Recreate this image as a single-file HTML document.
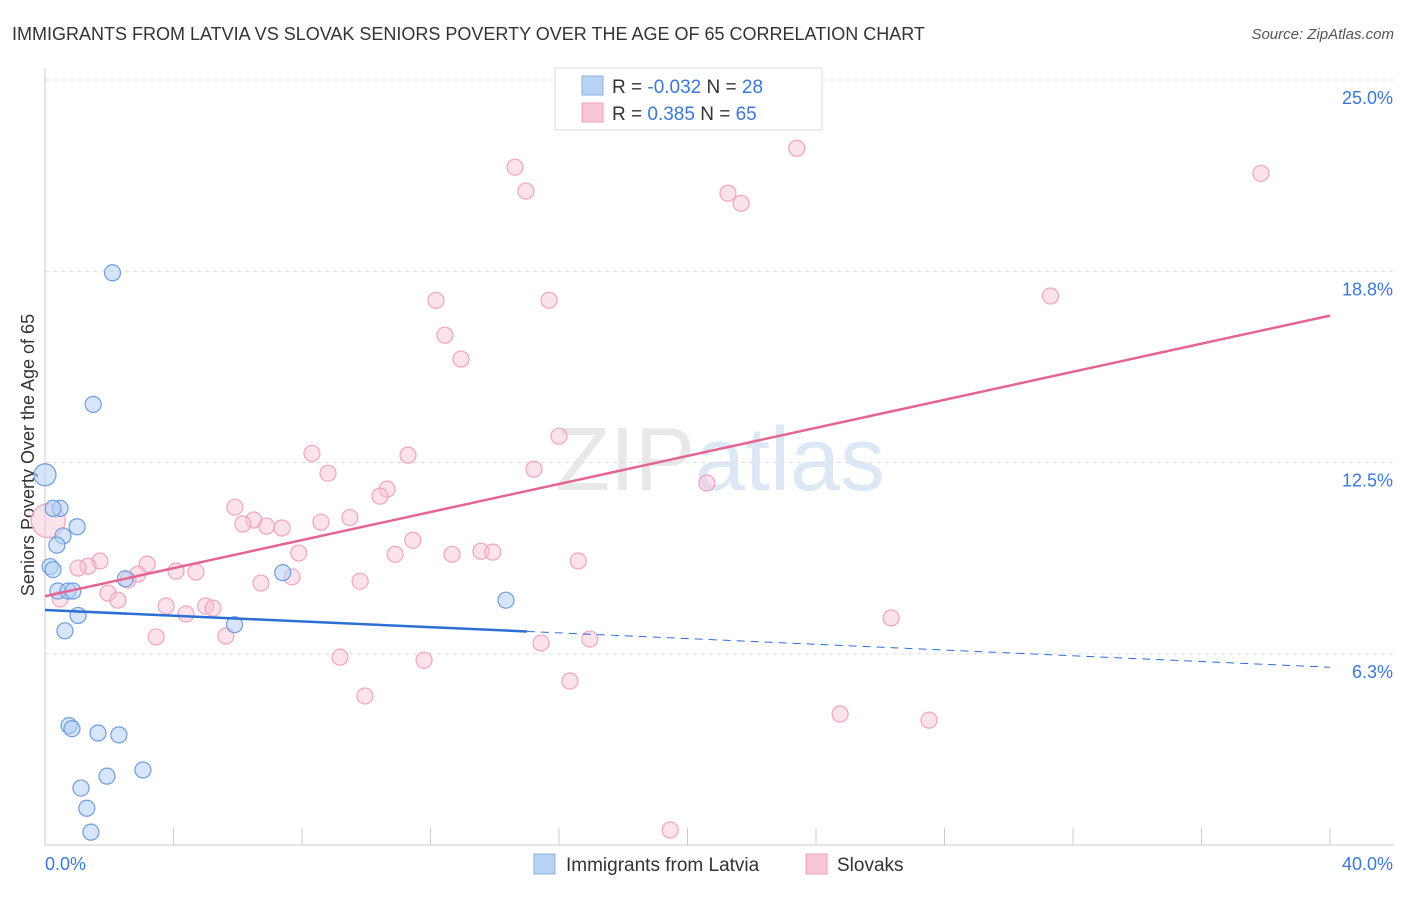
<!DOCTYPE html>
<html><head><meta charset="utf-8"><style>
body{margin:0;background:#fff;font-family:"Liberation Sans",sans-serif;}
svg text{font-family:"Liberation Sans",sans-serif;}
</style></head><body>
<svg width="1406" height="892">
<text x="12" y="40" font-size="18" fill="#333">IMMIGRANTS FROM LATVIA VS SLOVAK SENIORS POVERTY OVER THE AGE OF 65 CORRELATION CHART</text>
<text x="1394" y="39" font-size="15" fill="#555" font-style="italic" text-anchor="end">Source: ZipAtlas.com</text>
<text x="720" y="490" font-size="90" fill="#e8e8e8" text-anchor="middle" font-family="Liberation Serif">ZIP<tspan fill="#dce8f5" font-family="Liberation Sans">atlas</tspan></text>
<g id="grid"></g>
<g id="axes"></g>
<text transform="translate(34,455) rotate(-90)" font-size="18" fill="#333" text-anchor="middle">Seniors Poverty Over the Age of 65</text>
<g id="marks"></g>
<g>
<rect x="555" y="68" width="267" height="62" fill="#fff" stroke="#ddd"/>
<rect x="582" y="76" width="21" height="19" fill="#b9d3f5" stroke="#8ab0e6"/>
<rect x="582" y="103" width="21" height="19" fill="#f9c7d6" stroke="#f0a0ba"/>
<text x="612" y="93" font-size="19" fill="#333">R = <tspan fill="#3b78d8">-0.032</tspan>   N = <tspan fill="#3b78d8">28</tspan></text>
<text x="612" y="120" font-size="19" fill="#333">R =  <tspan fill="#3b78d8"> 0.385</tspan>   N = <tspan fill="#3b78d8">65</tspan></text>
</g>
<g>
<rect x="534" y="854" width="21" height="20" fill="#b9d3f5" stroke="#8ab0e6"/>
<text x="566" y="871" font-size="19" fill="#333">Immigrants from Latvia</text>
<rect x="806" y="854" width="21" height="20" fill="#f9c7d6" stroke="#f0a0ba"/>
<text x="837" y="871" font-size="19" fill="#333">Slovaks</text>
</g>
</svg>
<script>
const yTicks=[6.25,12.5,18.75,25];
const yTickLabels=["6.3%","12.5%","18.8%","25.0%"];
const xTicks=[0,4,8,12,16,20,24,28,32,36,40];
const latviaX=[0,2.1,1.5,0.47,0.25,1.0,0.56,0.37,0.16,0.25,0.4,0.72,0.87,2.5,1.03,0.62,7.4,5.9,14.35,0.75,0.84,1.65,2.3,3.05,1.93,1.12,1.3,1.43];
const latviaY=[12.1,18.7,14.4,11.0,11.0,10.4,10.1,9.8,9.1,9.0,8.3,8.3,8.3,8.7,7.5,7.0,8.9,7.2,8.0,3.9,3.8,3.66,3.6,2.45,2.25,1.86,1.2,0.42];
const slovakX=[14.63,14.97,23.4,21.26,21.67,37.85,31.3,12.17,15.69,12.45,12.95,16.0,8.31,11.3,8.81,15.22,20.6,10.65,10.43,5.91,9.49,6.5,6.16,6.9,7.38,8.59,11.45,7.9,10.9,12.67,13.57,13.94,16.6,1.71,1.34,1.03,3.18,4.08,4.7,2.89,2.58,6.72,7.69,9.81,1.96,2.27,0.47,3.77,4.39,5.0,5.23,26.34,3.46,5.63,15.44,16.96,9.18,11.8,9.96,16.34,24.75,27.52,19.46,0.1];
const slovakY=[22.15,21.37,22.77,21.3,20.97,21.95,17.94,17.8,17.8,16.66,15.88,13.36,12.8,12.74,12.15,12.28,11.83,11.63,11.4,11.04,10.7,10.62,10.49,10.42,10.36,10.55,9.96,9.54,9.5,9.5,9.6,9.57,9.28,9.28,9.11,9.05,9.18,8.95,8.92,8.85,8.66,8.56,8.76,8.62,8.23,8.0,8.04,7.81,7.55,7.81,7.74,7.42,6.8,6.83,6.6,6.73,6.14,6.04,4.87,5.36,4.28,4.08,0.49,10.6];
const latviaTrend=[7.68,5.81];
const slovakTrend=[8.13,17.3];
const latviaSolidEnd=15;
const NS="http://www.w3.org/2000/svg";
const sx=v=>45+v*(1285/40);
const sy=v=>845-v*(765/25);
function mk(tag,attrs,parent){const e=document.createElementNS(NS,tag);for(const k in attrs)e.setAttribute(k,attrs[k]);document.getElementById(parent).appendChild(e);return e;}
yTicks.forEach((t,i)=>{
 const l=mk('line',{x1:45,x2:1394,y1:sy(t),y2:sy(t),stroke:'#ddd','stroke-dasharray':'4,4'},'grid');
 
 
 const tx=mk('text',{x:1393,y:sy(t)+24,'font-size':18,fill:'#3b78d8','text-anchor':'end'},'grid');
 tx.textContent=yTickLabels[i];
 
 
});
const ax=mk('line',{x1:45,x2:1394,y1:845,y2:845,stroke:'#ccc'},'axes');


const ay=mk('line',{x1:45,x2:45,y1:68,y2:845,stroke:'#ccc'},'axes');


xTicks.forEach(t=>{
 const l=mk('line',{x1:sx(t),x2:sx(t),y1:828,y2:845,stroke:'#ccc'},'axes');
 
 
});
const xl0=mk('text',{x:45,y:870,'font-size':18,fill:'#3b78d8'},'axes');xl0.textContent='0.0%';


const xl1=mk('text',{x:1393,y:870,'font-size':18,fill:'#3b78d8','text-anchor':'end'},'axes');xl1.textContent='40.0%';


slovakX.forEach((x,i)=>{
 const big=i===slovakX.length-1;
 const c=mk('circle',{cx:sx(x),cy:sy(slovakY[i]),r:big?17:8,fill:'rgba(249,190,210,0.45)',stroke:'#f2a4bf','stroke-width':1.2},'marks');
 
 
});
latviaX.forEach((x,i)=>{
 const c=mk('circle',{cx:sx(x),cy:sy(latviaY[i]),r:i===0?11:8,fill:'rgba(180,208,245,0.55)',stroke:'#6d9de0','stroke-width':1.2},'marks');
 
 
});
const ly=x=>latviaTrend[0]+(latviaTrend[1]-latviaTrend[0])*x/40;
const t1=mk('line',{x1:sx(0),y1:sy(ly(0)),x2:sx(latviaSolidEnd),y2:sy(ly(latviaSolidEnd)),stroke:'#2c6fd6','stroke-width':2.5},'marks');


const t2=mk('line',{x1:sx(latviaSolidEnd),y1:sy(ly(latviaSolidEnd)),x2:sx(40),y2:sy(ly(40)),stroke:'#2c6fd6','stroke-width':1,'stroke-dasharray':'8,6'},'marks');


const t3=mk('line',{x1:sx(0),y1:sy(slovakTrend[0]),x2:sx(40),y2:sy(slovakTrend[1]),stroke:'#e46592','stroke-width':2.5},'marks');


</script>
</body></html>
